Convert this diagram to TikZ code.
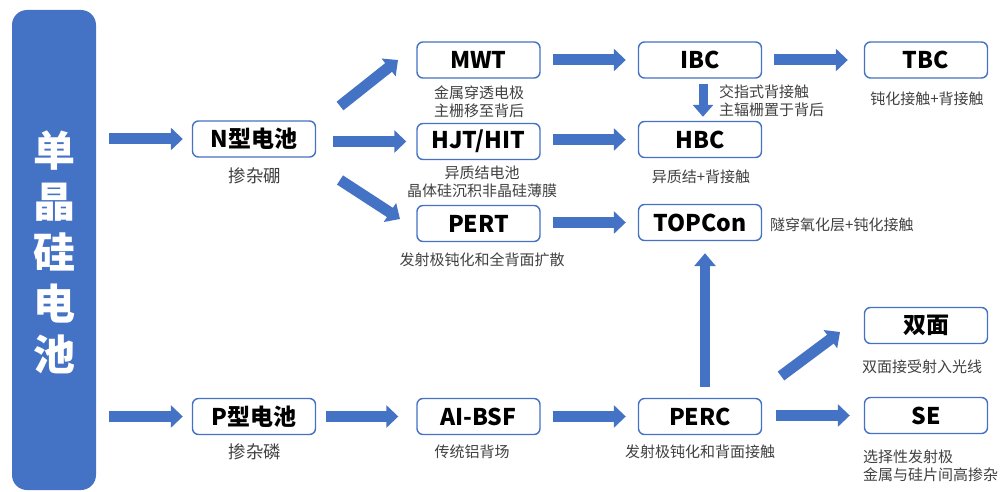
\documentclass[tikz,border=0pt]{standalone}
\usepackage{fontspec}
\setmainfont{Noto Sans CJK SC}
\usetikzlibrary{arrows.meta}
\definecolor{myblue}{HTML}{4472C4}
\definecolor{subgray}{HTML}{404040}
\tikzset{
  box/.style={draw=myblue, line width=1.4pt, fill=white, rounded corners=6pt,
    minimum width=123pt, minimum height=36pt, inner sep=0pt,
    font=\bfseries\fontsize{23}{26}\selectfont, text=black},
  sub/.style={font=\fontsize{15}{18}\selectfont, text=subgray, inner sep=0pt, align=center},
  subbig/.style={sub, font=\fontsize{17.5}{20}\selectfont},
  subl/.style={sub, align=left, anchor=west},
  barrow/.style={draw=myblue, line width=11pt, line cap=butt,
    -{Triangle[width=22pt,length=12pt]}},
  varrow/.style={draw=myblue, line width=9pt, line cap=butt,
    -{Triangle[width=20pt,length=12pt]}},
}
\begin{document}
\begin{tikzpicture}[x=1pt,y=-1pt]
\useasboundingbox (0,0) rectangle (1004,492);
% left bar
\node[fill=myblue, rounded corners=15pt, minimum width=84pt, minimum height=480pt, inner sep=0pt] (bar) at (54,250) {};
\node[text=white, font=\bfseries\fontsize{42}{51}\selectfont, align=center, inner sep=0pt] (bartext) at (54,252) {单\\晶\\硅\\电\\池};
% boxes
\node[box] (n) at (254,139) {N型电池};
\node[box] (p) at (254,416.5) {P型电池};
\node[box] (mwt) at (478.5,60) {MWT};
\node[box] (hjt) at (478.5,141.5) {HJT/HIT};
\node[box] (pert) at (478.5,223.5) {PERT};
\node[box] (ibc) at (700,60) {IBC};
\node[box] (hbc) at (700,139.5) {HBC};
\node[box] (topcon) at (700,222.5) {TOPCon};
\node[box] (tbc) at (926,60) {TBC};
\node[box] (sm) at (926,325.5) {双面};
\node[box] (se) at (926,415.5) {SE};
\node[box] (albsf) at (478.5,416.5) {AI-BSF};
\node[box] (perc) at (700,416.5) {PERC};
% sub labels
\node[subbig] (nl) at (255,176) {掺杂硼};
\node[subbig] (pl) at (255,452) {掺杂磷};
\node[sub] (mwtl) at (479,102) {金属穿透电极\\主栅移至背后};
\node[sub] (hjtl) at (482,181.5) {异质结电池\\晶体硅沉积非晶硅薄膜};
\node[sub] (pertl) at (482,260) {发射极钝化和全背面扩散};
\node[subl] (ibcl) at (719,101) {交指式背接触\\主辐栅置于背后};
\node[sub] (hbcl) at (701,177) {异质结+背接触};
\node[subl] (topconl) at (770,225) {隧穿氧化层+钝化接触};
\node[sub] (tbcl) at (927,99) {钝化接触+背接触};
\node[sub] (sml) at (922,367) {双面接受射入光线};
\node[subl] (sel) at (863,465.5) {选择性发射极\\金属与硅片间高掺杂};
\node[sub] (albsfl) at (472,452) {传统铝背场};
\node[sub] (percl) at (700,452) {发射极钝化和背面接触};
% diagonal arrow ends
\coordinate (d1s) at (340,106);
\coordinate (d1e) at (398,60);
\coordinate (d2s) at (340,180);
\coordinate (d2e) at (400,219);
\coordinate (d3s) at (781,376);
\coordinate (d3e) at (840,332);
% arrows
\draw[barrow] ([xshift=13pt]bar.east |- n.center) -- ([xshift=-9pt]n.west);
\draw[barrow] ([xshift=13pt]bar.east |- p.center) -- ([xshift=-9pt]p.west);
\draw[barrow] (d1s) -- (d1e);
\draw[barrow] ([xshift=17pt]n.east |- hjt.center) -- ([xshift=-10pt]hjt.west);
\draw[barrow] (d2s) -- (d2e);
\draw[barrow] ([xshift=12pt]mwt.east) -- ([xshift=-12pt]ibc.west);
\draw[barrow] ([xshift=12pt]hjt.east |- hbc.center) -- ([xshift=-12pt]hbc.west);
\draw[barrow] ([xshift=12pt]pert.east |- topcon.center) -- ([xshift=-12pt]topcon.west);
\draw[barrow] ([xshift=12pt]ibc.east) -- ([xshift=-16pt]tbc.west);
\draw[varrow] ([xshift=3pt,yshift=-5pt]ibc.south) -- ([xshift=3pt,yshift=4pt]hbc.north);
\draw[barrow] ([xshift=10pt]p.east) -- ([xshift=-18pt]albsf.west);
\draw[barrow] ([xshift=12pt]albsf.east) -- ([xshift=-12pt]perc.west);
\draw[barrow] ([xshift=14pt]perc.east |- se.center) -- ([xshift=-14pt]se.west);
\draw[draw=myblue, line width=10pt, line cap=butt, -{Triangle[width=21pt,length=13pt]}] ([xshift=5pt,yshift=11pt]perc.north) -- ([xshift=5pt,yshift=-12pt]topcon.south);
\draw[barrow] (d3s) -- (d3e);
\end{tikzpicture}
\end{document}
